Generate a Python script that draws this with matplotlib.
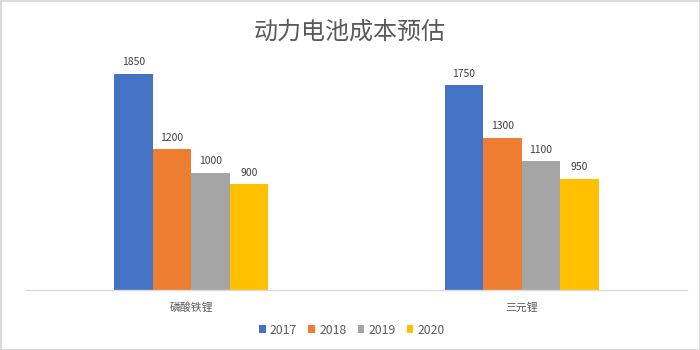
import matplotlib
matplotlib.use("Agg")
import matplotlib.pyplot as plt
from matplotlib.patches import Rectangle
import numpy as np

plt.rcParams['font.family'] = ['Noto Sans CJK SC', 'DejaVu Sans']

categories = ["磷酸铁锂", "三元锂"]
years = ["2017", "2018", "2019", "2020"]
values = {
    "2017": [1850, 1750],
    "2018": [1200, 1300],
    "2019": [1000, 1100],
    "2020": [900, 950],
}
colors = ["#4472C4", "#ED7D31", "#A5A5A5", "#FFC000"]
title = "动力电池成本预估"

W, H = 700, 350
fig = plt.figure(figsize=(W / 100, H / 100), dpi=100)

# plot area in pixel terms
left_px, right_px = 26, 687
base_px = 289.5
ymax = 2000
px_per_unit = 216 / 1850
top_px = base_px - ymax * px_per_unit
ax = fig.add_axes([left_px / W, (H - base_px) / H,
                   (right_px - left_px) / W, (base_px - top_px) / H])

x = np.arange(len(categories))
bw = 0.1165
for i, (yr, c) in enumerate(zip(years, colors)):
    offs = (i - 1.5) * bw
    bars = ax.bar(x + offs, values[yr], width=bw, color=c, label=yr,
                  edgecolor='none', zorder=2)
    for b, v in zip(bars, values[yr]):
        ax.annotate(str(v), (b.get_x() + b.get_width() / 2, v),
                    xytext=(0, 4.5), textcoords='offset points',
                    ha='center', va='bottom', fontsize=7.5, color='#404040')

ax.set_xlim(-0.5, 1.5)
ax.set_ylim(0, ymax)
ax.set_xticks(x)
ax.set_xticklabels(categories, fontsize=7.8, color='#595959')
ax.tick_params(axis='x', length=0, pad=9)
ax.set_yticks([])
for s in ['top', 'right', 'left']:
    ax.spines[s].set_visible(False)
ax.spines['bottom'].set_color('#D9D9D9')
ax.spines['bottom'].set_linewidth(1.0)

fig.text(0.5, 1 - 32 / H, title, ha='center', va='center',
         fontsize=17.3, color='#595959')

leg = fig.legend(loc='center', bbox_to_anchor=(352 / W, 1 - 330 / H), ncol=4,
                 frameon=False, fontsize=8.8, handlelength=0.55,
                 handleheight=0.55, handletextpad=0.35, columnspacing=0.9,
                 labelcolor='#595959')

fig.patches.append(Rectangle((0, 0), 1, 1, transform=fig.transFigure,
                             fill=False, edgecolor='#D9D9D9', linewidth=2.0))

fig.savefig("out.png", dpi=100, facecolor='white')
